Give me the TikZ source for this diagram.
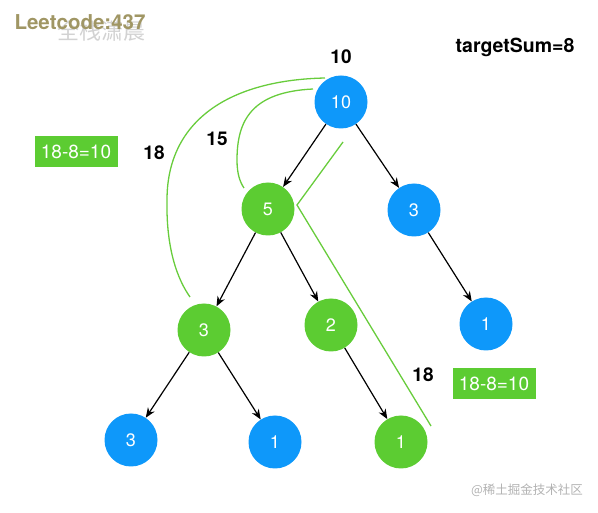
\documentclass[tikz,border=0pt]{standalone}
\usepackage{fontspec}
\setmainfont{TeX Gyre Heros}
\newfontfamily\cjk{Noto Sans CJK SC}
\usepackage{tikz}
\usetikzlibrary{arrows.meta}
\definecolor{nodeblue}{RGB}{14,152,250}
\definecolor{nodegreen}{RGB}{92,204,50}
\definecolor{pathgreen}{RGB}{104,204,60}
\definecolor{markolive}{RGB}{160,150,100}

\begin{document}
\begin{tikzpicture}[x=1pt,y=-1pt,
    bluenode/.style={circle, fill=nodeblue, minimum size=53pt, inner sep=0pt, text=white, font=\fontsize{18}{20}\selectfont},
    greennode/.style={bluenode, fill=nodegreen},
    edge/.style={line width=1.2pt, -{Stealth[length=10pt,width=8pt]}},
    sumpath/.style={pathgreen, line width=1.3pt},
    sumlabel/.style={font=\fontsize{19}{21}\selectfont\bfseries},
    sumbox/.style={fill=nodegreen, text=white, minimum width=83pt, minimum height=31pt, inner sep=0pt, font=\fontsize{19}{21}\selectfont}]
    \useasboundingbox (0,0) rectangle (598,513);

    % tree
    \node[bluenode] (r10) at (341,102) {10};
    \node[greennode] (l5) at (268,209) {5};
    \node[bluenode] (r3) at (414,210) {3};
    \node[greennode] (ll3) at (204,330) {3};
    \node[greennode] (lr2) at (331,325) {2};
    \node[bluenode] (rr1) at (486,324) {1};
    \node[bluenode] (lll3) at (131,440) {3};
    \node[bluenode] (llr1) at (275,442) {1};
    \node[greennode] (lrr1) at (401,442) {1};

    \draw[edge] (r10) -- (l5);
    \draw[edge] (r10) -- (r3);
    \draw[edge] (l5) -- (ll3);
    \draw[edge] (l5) -- (lr2);
    \draw[edge] (r3) -- (rr1);
    \draw[edge] (ll3) -- (lll3);
    \draw[edge] (ll3) -- (llr1);
    \draw[edge] (lr2) -- (lrr1);

    % path sums
    \coordinate (outA) at (325,78);
    \coordinate (outB) at (190,297);
    \coordinate (inA) at (313,89);
    \coordinate (inB) at (244,188);
    \coordinate (vA) at (343,142);
    \coordinate (vB) at (297,205);
    \coordinate (vC) at (431,426);
    \draw[sumpath] (outA) .. controls (230,80) and (167,120) .. (167,200) .. controls (166,250) and (178,280) .. (outB);
    \draw[sumpath] (inA) .. controls (252,92) and (237,120) .. (237,160) .. controls (237,174) and (240,182) .. (inB);
    \draw[sumpath] (vA) -- (vB) -- (vC);

    \node[sumlabel] (s10) at (341,57) {10};
    \node[sumlabel] (s15) at (217,139) {15};
    \node[sumlabel] (s18a) at (154,153) {18};
    \node[sumlabel] (s18b) at (423,375) {18};
    \node[sumlabel, font=\fontsize{19.5}{21}\selectfont\bfseries] (target) at (515,47) {targetSum=8};

    \node[sumbox] (box1) at (76,152) {18-8=10};
    \node[sumbox] (box2) at (494,384) {18-8=10};

    % watermarks
    \node[text=gray!35, font=\cjk\fontsize{22}{24}\selectfont] (wmcn) at (101,31) {全栈潇晨};
    \node[text=markolive, font=\fontsize{20.5}{22}\selectfont\bfseries] (wmlc) at (80,22) {Leetcode:437};
    \node[text=gray!60, font=\cjk\fontsize{12.5}{14}\selectfont] (wmjj) at (527,490) {@稀土掘金技术社区};
\end{tikzpicture}
\end{document}
